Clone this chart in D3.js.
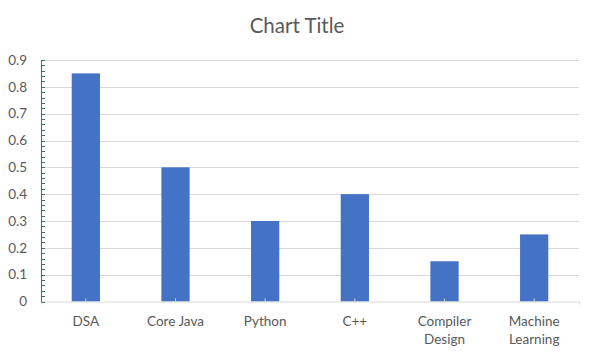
<!DOCTYPE html>
<html><head><meta charset="utf-8">
<script src="https://cdn.jsdelivr.net/npm/d3@7"></script>
<style>
html,body{margin:0;padding:0;background:#fff;}
svg{display:block;font-family:Lato,"Open Sans",sans-serif;}
</style></head>
<body><svg id="c" width="596" height="356"></svg>
<script>
const categories = [["DSA"],["Core Java"],["Python"],["C++"],["Compiler","Design"],["Machine","Learning"]];
const values = [0.85, 0.5, 0.3, 0.4, 0.15, 0.25];
const yTicks = [0,0.1,0.2,0.3,0.4,0.5,0.6,0.7,0.8,0.9];
const title = "Chart Title";

(function(){
const svg = d3.select("#c");
const pL = 41, pR = 579, pT = 60, pB = 301.5;
const keys = categories.map(c => c.join(" "));
const x = d3.scaleBand().domain(keys).range([pL, pR]).paddingInner(0.685).paddingOuter(0.3425);
const y = d3.scaleLinear().domain([0, 0.9]).range([pB, pT]);

// gridlines
svg.append("g").selectAll("line").data(yTicks.slice(1)).join("line")
  .attr("x1", pL).attr("x2", pR)
  .attr("y1", d => Math.round(y(d)) + 0.5).attr("y2", d => Math.round(y(d)) + 0.5)
  .attr("stroke", "#d9d9d9").attr("stroke-width", 1);

// bars
svg.append("g").selectAll("rect").data(values).join("rect")
  .attr("x", (d, i) => x(keys[i]))
  .attr("width", x.bandwidth())
  .attr("y", d => y(d))
  .attr("height", d => pB - y(d))
  .attr("fill", "#4472c4");

// x axis
const xAxis = d3.axisBottom(x).tickSize(3).tickFormat("");
const gx = svg.append("g").attr("transform", `translate(0,${pB})`).call(xAxis);
gx.select(".domain").attr("stroke", "#d9d9d9");
gx.selectAll(".tick line").attr("stroke", "#d9d9d9").attr("y1", -3).attr("y2", 0);

// x labels
const lab = svg.append("g").selectAll("text").data(categories).join("text")
  .attr("text-anchor", "middle")
  .attr("font-size", 13.5).attr("fill", "#595959")
  .attr("transform", (d, i) => `translate(${x(keys[i]) + x.bandwidth()/2},326)`);
lab.selectAll("tspan").data(d => d).join("tspan")
  .attr("x", 0).attr("dy", (d, j) => j === 0 ? 0 : 18).text(d => d);

// y axis with minor ticks
const minor = d3.range(0, 46).map(i => i * 0.02).filter(v => v <= 0.9 + 1e-9);
const gy = svg.append("g").attr("transform", `translate(${pL},0)`);
gy.append("line").attr("x1", 0.5).attr("x2", 0.5).attr("y1", y(0.9)).attr("y2", pB + 0.5)
  .attr("stroke", "#3f6d80").attr("stroke-width", 1);
gy.selectAll("line.m").data(minor).join("line").attr("class", "m")
  .attr("x1", 0.5).attr("x2", 4)
  .attr("y1", d => Math.round(y(d)) + 0.5).attr("y2", d => Math.round(y(d)) + 0.5)
  .attr("stroke", "#3f6d80").attr("stroke-width", 1);

const yAxis = d3.axisLeft(y).tickValues(yTicks).tickSize(0).tickPadding(14).tickFormat(d3.format("~g"));
const gyl = svg.append("g").attr("transform", `translate(${pL},0)`).call(yAxis);
gyl.select(".domain").remove();
gyl.selectAll("text").attr("font-size", 13.5).attr("fill", "#595959").attr("font-family", "Lato,sans-serif");

// title
svg.append("text").attr("x", 297).attr("y", 33).attr("text-anchor", "middle")
  .attr("font-size", 20.5).attr("fill", "#595959").text(title);
})();
</script></body></html>
